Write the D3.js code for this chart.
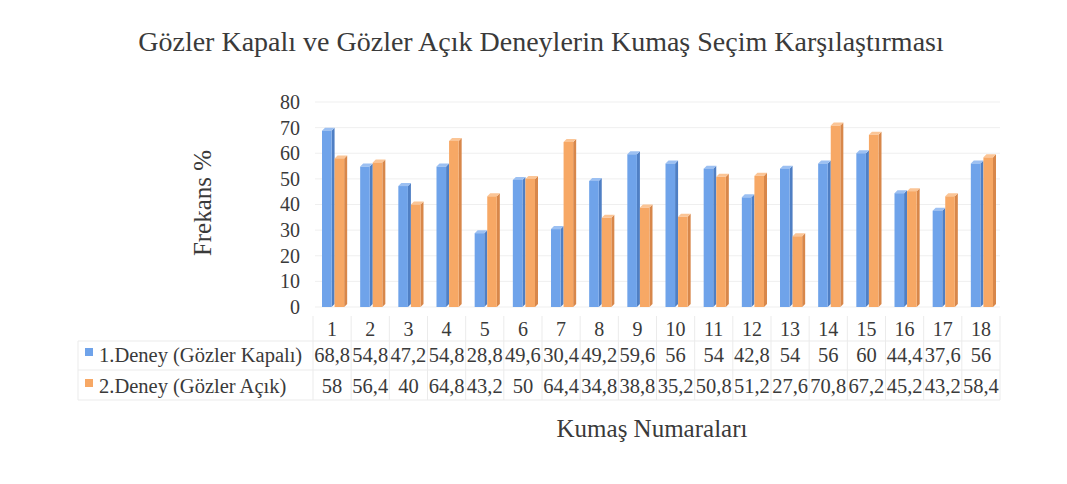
<!DOCTYPE html>
<html><head><meta charset="utf-8">
<script src="https://cdn.jsdelivr.net/npm/d3@7"></script>
<style>body{margin:0;background:#fff}svg{display:block}text{font-family:"Liberation Serif","Times New Roman",serif;fill:#3a3a3a}</style>
</head><body><div id="c"></div>
<script>
const categories = ["1","2","3","4","5","6","7","8","9","10","11","12","13","14","15","16","17","18"];
const seriesNames = ["1.Deney (Gözler Kapalı)","2.Deney (Gözler Açık)"];
const closedEyes = [68.8,54.8,47.2,54.8,28.8,49.6,30.4,49.2,59.6,56,54,42.8,54,56,60,44.4,37.6,56];
const openEyes = [58,56.4,40,64.8,43.2,50,64.4,34.8,38.8,35.2,50.8,51.2,27.6,70.8,67.2,45.2,43.2,58.4];
const yTicks = [0,10,20,30,40,50,60,70,80];
const colors = ["#6fa3ea","#f7a865"];
const sideColors = ["#4f7fc4","#d8874a"];
const topColors = ["#9cc0f2","#fbc596"];

const W=1067,H=484;
const svg=d3.select("#c").append("svg").attr("width",W).attr("height",H);
const x=d3.scaleBand().domain(categories).range([313,1000]);
const y=d3.scaleLinear().domain([0,80]).range([307,102]);
const xs=d3.scaleBand().domain([0,1]).range([9,x.bandwidth()-4]);
const loc=d3.formatLocale({decimal:",",thousands:".",grouping:[3],currency:["",""]});
const fmt=v=>loc.format("~f")(v);

// title
svg.append("text").attr("x",541).attr("y",51).attr("text-anchor","middle").attr("font-size",28).text("Gözler Kapalı ve Gözler Açık Deneylerin Kumaş Seçim Karşılaştırması");

// gridlines
svg.append("g").selectAll("line").data(yTicks).join("line")
 .attr("x1",315).attr("x2",1000).attr("y1",d=>y(d)).attr("y2",d=>y(d))
 .attr("stroke","#efefef").attr("stroke-width",1);

// y axis
const ya=svg.append("g").attr("transform","translate(300,0)").call(d3.axisLeft(y).tickValues(yTicks).tickSize(0).tickPadding(0));
ya.select(".domain").remove();
ya.selectAll("text").attr("font-size",20).style("font-family","Liberation Serif").attr("fill","#3a3a3a");

svg.append("text").attr("transform","translate(211,203) rotate(-90)").attr("text-anchor","middle").attr("font-size",25).text("Frekans %");

// bars
const data=[closedEyes,openEyes];
const dx=3,dy=3;
data.forEach((vals,si)=>{
 const g=svg.append("g");
 categories.forEach((c,i)=>{
  const x0=x(c)+xs(si), w=xs.bandwidth()-dx, y0=y(vals[i]), yb=y(0);
  g.append("polygon").attr("points",[[x0+w,y0],[x0+w+dx,y0-dy],[x0+w+dx,yb-dy],[x0+w,yb]].join(" ")).attr("fill",sideColors[si]);
  g.append("polygon").attr("points",[[x0,y0],[x0+dx,y0-dy],[x0+w+dx,y0-dy],[x0+w,y0]].join(" ")).attr("fill",topColors[si]);
  g.append("rect").attr("x",x0).attr("y",y0).attr("width",w).attr("height",yb-y0).attr("fill",colors[si]);
 });
});

// data table
const rowY=[316,341,370,400];
const tg=svg.append("g").attr("stroke","#ebebeb").attr("stroke-width",1);
x.domain().forEach(c=>{tg.append("line").attr("x1",x(c)).attr("x2",x(c)).attr("y1",rowY[0]).attr("y2",rowY[3]);});
tg.append("line").attr("x1",1000).attr("x2",1000).attr("y1",rowY[0]).attr("y2",rowY[3]);
tg.append("line").attr("x1",78).attr("x2",78).attr("y1",rowY[1]).attr("y2",rowY[3]);
[1,2,3].forEach(k=>tg.append("line").attr("x1",78).attr("x2",1000).attr("y1",rowY[k]).attr("y2",rowY[k]));

svg.append("g").selectAll("text").data(categories).join("text")
 .attr("x",d=>x(d)+x.bandwidth()/2).attr("y",336).attr("text-anchor","middle").attr("font-size",20).text(d=>d);
data.forEach((vals,si)=>{
 svg.append("g").selectAll("text").data(vals).join("text")
  .attr("x",(d,i)=>x(categories[i])+x.bandwidth()/2).attr("y",362+si*31).attr("text-anchor","middle").attr("font-size",20.5).text(d=>fmt(d));
 svg.append("rect").attr("x",85).attr("y",348+si*31).attr("width",8).attr("height",8).attr("fill",colors[si]);
 svg.append("text").attr("x",99).attr("y",362+si*31).attr("font-size",20.5).text(seriesNames[si]);
});

svg.append("text").attr("x",652).attr("y",437).attr("text-anchor","middle").attr("font-size",25).text("Kumaş Numaraları");
</script></body></html>
